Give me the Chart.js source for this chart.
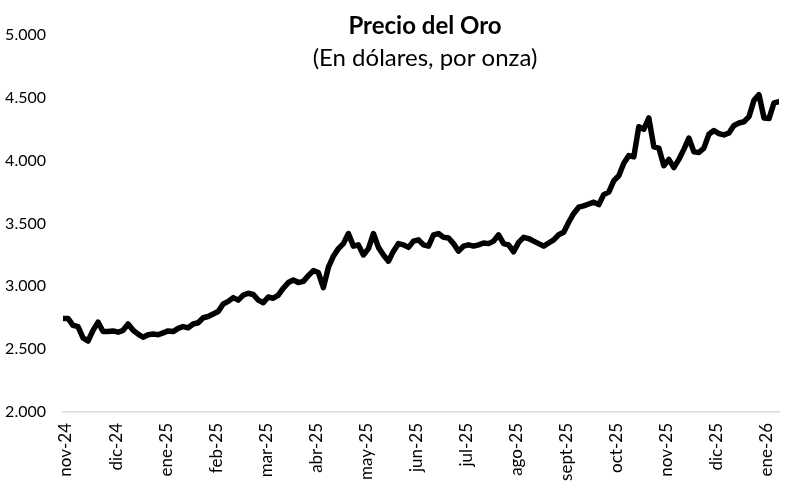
<!DOCTYPE html>
<html>
<head>
<meta charset="utf-8">
<script src="https://cdn.jsdelivr.net/npm/chart.js@4"></script>
<style>
  html, body { margin: 0; padding: 0; background: #ffffff; }
  #wrap { width: 802px; height: 504px; position: relative; }
</style>
</head>
<body>
<div id="wrap"><canvas id="c" width="802" height="504"></canvas></div>
<script>
// ---- data ----
const chartTitle = 'Precio del Oro';
const chartSubtitle = '(En dólares, por onza)';
const monthLabels = ['nov-24','dic-24','ene-25','feb-25','mar-25','abr-25','may-25','jun-25',
                     'jul-25','ago-25','sept-25','oct-25','nov-25','dic-25','ene-26'];
const yTickValues = [2000, 2500, 3000, 3500, 4000, 4500, 5000];
// series sampled every 0.1 month starting just before nov-24
const seriesStart = -0.06;
const seriesStep = 0.1;
const goldPrice = [
  2745, 2745, 2690, 2680, 2590, 2565, 2650, 2715, 2640, 2640,
  2645, 2635, 2650, 2700, 2650, 2620, 2595, 2615, 2620, 2615,
  2630, 2645, 2640, 2665, 2680, 2670, 2700, 2710, 2750, 2760,
  2780, 2800, 2860, 2880, 2910, 2890, 2930, 2945, 2935, 2890,
  2870, 2915, 2905, 2930, 2985, 3030, 3050, 3030, 3040, 3085,
  3125, 3110, 2990, 3150, 3240, 3300, 3340, 3420, 3320, 3330,
  3250, 3300, 3420, 3310, 3250, 3200, 3280, 3340, 3330, 3310,
  3360, 3370, 3330, 3320, 3410, 3420, 3390, 3385, 3340, 3280,
  3320, 3330, 3320, 3330, 3345, 3340, 3360, 3410, 3340, 3330,
  3275, 3350, 3390, 3380, 3360, 3340, 3320, 3345, 3370, 3410,
  3430, 3510, 3580, 3630, 3640, 3655, 3670, 3650, 3730, 3750,
  3840, 3880, 3980, 4040, 4030, 4270, 4250, 4340, 4110, 4100,
  3960, 4010, 3945, 4010, 4090, 4180, 4070, 4065, 4100, 4210,
  4240, 4215, 4205, 4220, 4280, 4300, 4310, 4350, 4480, 4525,
  4340, 4335, 4460, 4470
];

const fmtThousands = v => String(v).replace(/\B(?=(\d{3})+(?!\d))/g, '.');

const overlayTitle = {
  id: 'overlayTitle',
  afterDraw(chart) {
    const { ctx, chartArea } = chart;
    const cx = (chartArea.left + chartArea.right) / 2 + 4;
    ctx.save();
    ctx.fillStyle = '#000000';
    ctx.textAlign = 'center';
    ctx.textBaseline = 'middle';
    ctx.font = 'bold 24px Lato';
    ctx.fillText(chartTitle, cx, 26);
    ctx.font = '24px Lato';
    ctx.fillText(chartSubtitle, cx, 58);
    ctx.restore();
  }
};

new Chart(document.getElementById('c'), {
  type: 'line',
  data: {
    datasets: [{
      data: goldPrice.map((v, i) => ({ x: seriesStart + i * seriesStep, y: v })),
      borderColor: '#000000',
      borderWidth: 5.5,
      pointRadius: 0,
      tension: 0,
      borderJoinStyle: 'round',
      borderCapStyle: 'round',
      fill: false
    }]
  },
  options: {
    responsive: false,
    animation: false,
    devicePixelRatio: 1,
    layout: { padding: { top: 35, left: 5, right: 23, bottom: 0 } },
    plugins: { legend: { display: false }, tooltip: { enabled: false }, title: { display: false } },
    scales: {
      x: {
        type: 'linear',
        min: seriesStart,
        max: seriesStart + (goldPrice.length - 1) * seriesStep,
        afterBuildTicks: s => { s.ticks = monthLabels.map((_, i) => ({ value: i })); },
        afterFit: s => { s.height = 92; },
        grid: { display: false, drawTicks: false },
        border: { display: true, color: '#d9d9d9', width: 1.5 },
        ticks: {
          autoSkip: false,
          minRotation: 90,
          maxRotation: 90,
          padding: 11,
          color: '#000000',
          font: { family: 'Lato', size: 17 },
          callback: v => monthLabels[v] ?? ''
        }
      },
      y: {
        type: 'linear',
        min: 2000,
        max: 5000,
        afterBuildTicks: s => { s.ticks = yTickValues.map(v => ({ value: v })); },
        afterFit: s => { s.width = 58; },
        grid: { display: false, drawTicks: false },
        border: { display: false },
        ticks: {
          padding: 17,
          color: '#000000',
          font: { family: 'Lato', size: 16 },
          callback: v => fmtThousands(v)
        }
      }
    }
  },
  plugins: [overlayTitle]
});
</script>
</body>
</html>
